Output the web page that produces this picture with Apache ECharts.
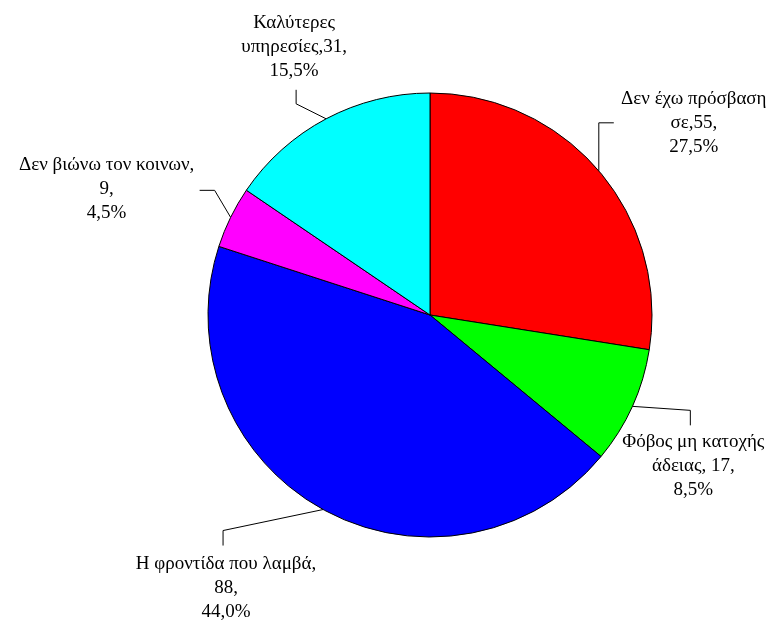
<!DOCTYPE html>
<html>
<head>
<meta charset="utf-8">
<script src="https://cdn.jsdelivr.net/npm/echarts@6/dist/echarts.min.js"></script>
<style>
  html, body { margin: 0; padding: 0; background: #fff; }
  #chart { width: 771px; height: 622px; }
</style>
</head>
<body>
<div id="chart"></div>
<script>
// Reasons, counts and percentage shares, clockwise from 12 o'clock
const categories = ['Δεν έχω πρόσβαση σε', 'Φόβος μη κατοχής άδειας', 'Η φροντίδα που λαμβά', 'Δεν βιώνω τον κοινων', 'Καλύτερες υπηρεσίες'];
const values = [55, 17, 88, 9, 31];
const shares = ['27,5%', '8,5%', '44,0%', '4,5%', '15,5%'];
// How each label's text is split over lines (the count and share are appended)
const labelHeads = [
  ['Δεν έχω πρόσβαση', 'σε,{v},'],
  ['Φόβος μη κατοχής', 'άδειας, {v},'],
  ['Η φροντίδα που λαμβά,', '{v},'],
  ['Δεν βιώνω τον κοινων,', '{v},'],
  ['Καλύτερες', 'υπηρεσίες,{v},']
];
const colors = ['#FF0000', '#00FF00', '#0000FF', '#FF00FF', '#00FFFF'];

// Leader-line elbows and label centres, as offsets from the slice's outer edge point
const leader = [
  { bend: [0, -48], end: [15, 0], text: [95, -48] },
  { bend: [58, 4], end: [0, 15], text: [61, 60] },
  { bend: [-100, 21], end: [0, 15], text: [-97, 78] },
  { bend: [-16, -27], end: [-15, 0], text: [-124, -28] },
  { bend: [-30, -15], end: [0, -14], text: [-32, -72] }
];

const chart = echarts.init(document.getElementById('chart'), null, { renderer: 'canvas' });

chart.setOption({
  backgroundColor: '#ffffff',
  animation: false,
  series: [{
    type: 'pie',
    center: [430, 315],
    radius: 222,
    startAngle: 90,
    clockwise: true,
    avoidLabelOverlap: false,
    data: categories.map((name, i) => ({ name, value: values[i] })),
    color: colors,
    itemStyle: { borderColor: '#000000', borderWidth: 1 },
    label: {
      show: true,
      position: 'outside',
      fontFamily: 'Liberation Serif',
      fontSize: 19,
      lineHeight: 24,
      color: '#000000',
      align: 'center',
      formatter: p => {
        const head = labelHeads[p.dataIndex].map(s => s.replace('{v}', p.value));
        return head.concat(shares[p.dataIndex]).join('\n');
      }
    },
    labelLine: {
      show: true,
      length: 10,
      length2: 10,
      lineStyle: { color: '#000000', width: 1 }
    },
    emphasis: { disabled: true },
    labelLayout: params => {
      const L = leader[params.dataIndex];
      const p0 = params.labelLinePoints[0];
      const p1 = [p0[0] + L.bend[0], p0[1] + L.bend[1]];
      const p2 = [p1[0] + L.end[0], p1[1] + L.end[1]];
      return {
        x: p0[0] + L.text[0],
        y: p0[1] + L.text[1],
        align: 'center',
        verticalAlign: 'middle',
        labelLinePoints: [p0, p1, p2]
      };
    }
  }]
});
</script>
</body>
</html>
